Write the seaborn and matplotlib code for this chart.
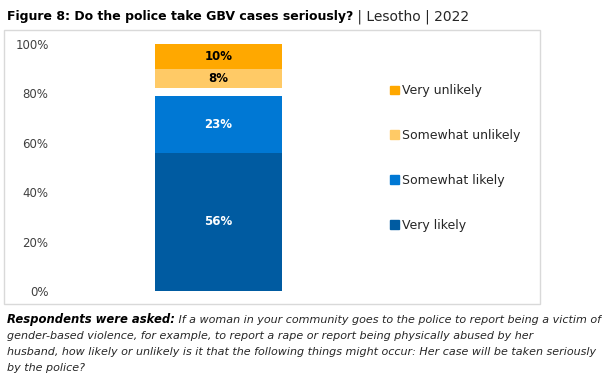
import seaborn as sns
import pandas as pd
import matplotlib.pyplot as plt
from matplotlib.patches import Rectangle, Patch

# данные со скриншота (проценты)
categories = ['Very likely', 'Somewhat likely', "Don't know", 'Somewhat unlikely', 'Very unlikely']
values = [56, 23, 3, 8, 10]
colors = ['#005BA1', '#0078D4', '#FFFFFF', '#FFCA66', '#FFA800']
label_colors = ['white', 'white', None, 'black', 'black']
yticks = [0, 20, 40, 60, 80, 100]
ytick_labels = ['0%', '20%', '40%', '60%', '80%', '100%']

title_bold = 'Figure 8: Do the police take GBV cases seriously?'
title_rest = ' | Lesotho | 2022'
caption_lead = 'Respondents were asked:'
caption_lines = [
    ' If a woman in your community goes to the police to report being a victim of',
    'gender-based violence, for example, to report a rape or report being physically abused by her',
    'husband, how likely or unlikely is it that the following things might occur: Her case will be taken seriously',
    'by the police?',
]

sns.set_style('white')
plt.rcParams['font.family'] = ['DejaVu Sans']

W, H = 602, 377
fig = plt.figure(figsize=(W / 100, H / 100), dpi=100)

# накопленные суммы -> рисуем от большего к меньшему (классический трюк для stacked в seaborn)
cum = pd.Series(values).cumsum().tolist()

ax = fig.add_axes([50 / W, 1 - 291 / H, 337 / W, (291 - 44) / H])
for i in reversed(range(len(values))):
    sns.barplot(x=[0], y=[cum[i]], color=colors[i], width=0.377, ax=ax,
                saturation=1, linewidth=0)

for i, v in enumerate(values):
    if label_colors[i] is None:
        continue
    mid = cum[i] - v / 2
    ax.text(0, mid, f'{v}%', ha='center', va='center', color=label_colors[i],
            fontsize=8.5, fontweight='bold')

ax.set_xlim(-0.5, 0.5)
ax.set_ylim(0, 100)
ax.set_yticks(yticks)
ax.set_yticklabels(ytick_labels, fontsize=8.5, color='#404040')
ax.set_xticks([])
ax.set_xlabel('')
ax.set_ylabel('')
ax.tick_params(axis='y', length=0, pad=1)
sns.despine(ax=ax, left=True, bottom=True)

# легенда
handles = [Patch(color=colors[i], label=categories[i]) for i in [4, 3, 1, 0]]
fig.legend(handles=handles, loc='upper left', bbox_to_anchor=(384 / W, 1 - 78 / H),
           frameon=False, fontsize=9, handlelength=0.7, handleheight=0.7,
           handletextpad=0.25, labelspacing=2.55, labelcolor='#262626', borderpad=0)

# рамка вокруг графика
fig.patches.append(Rectangle((4 / W, 1 - 304 / H), 536 / W, 274 / H, transform=fig.transFigure,
                             fill=False, edgecolor='#D9D9D9', linewidth=1))

renderer = fig.canvas.get_renderer()


def run(x, y, s, **kw):
    t = fig.text(x / W, 1 - y / H, s, va='baseline', **kw)
    bb = t.get_window_extent(renderer)
    return bb.x1


x = run(7, 20, title_bold, fontsize=9.0, fontweight='bold', color='black')
run(x, 20, title_rest, fontsize=10, color='#262626')

x = run(7, 323, caption_lead, fontsize=8.4, fontweight='bold', style='italic', color='black')
run(x, 323, caption_lines[0], fontsize=8.0, style='italic', color='#262626')
for k, line in enumerate(caption_lines[1:], start=1):
    run(7, 323 + 16 * k, line, fontsize=8.0, style='italic', color='#262626')

fig.savefig('out.png', dpi=100)
